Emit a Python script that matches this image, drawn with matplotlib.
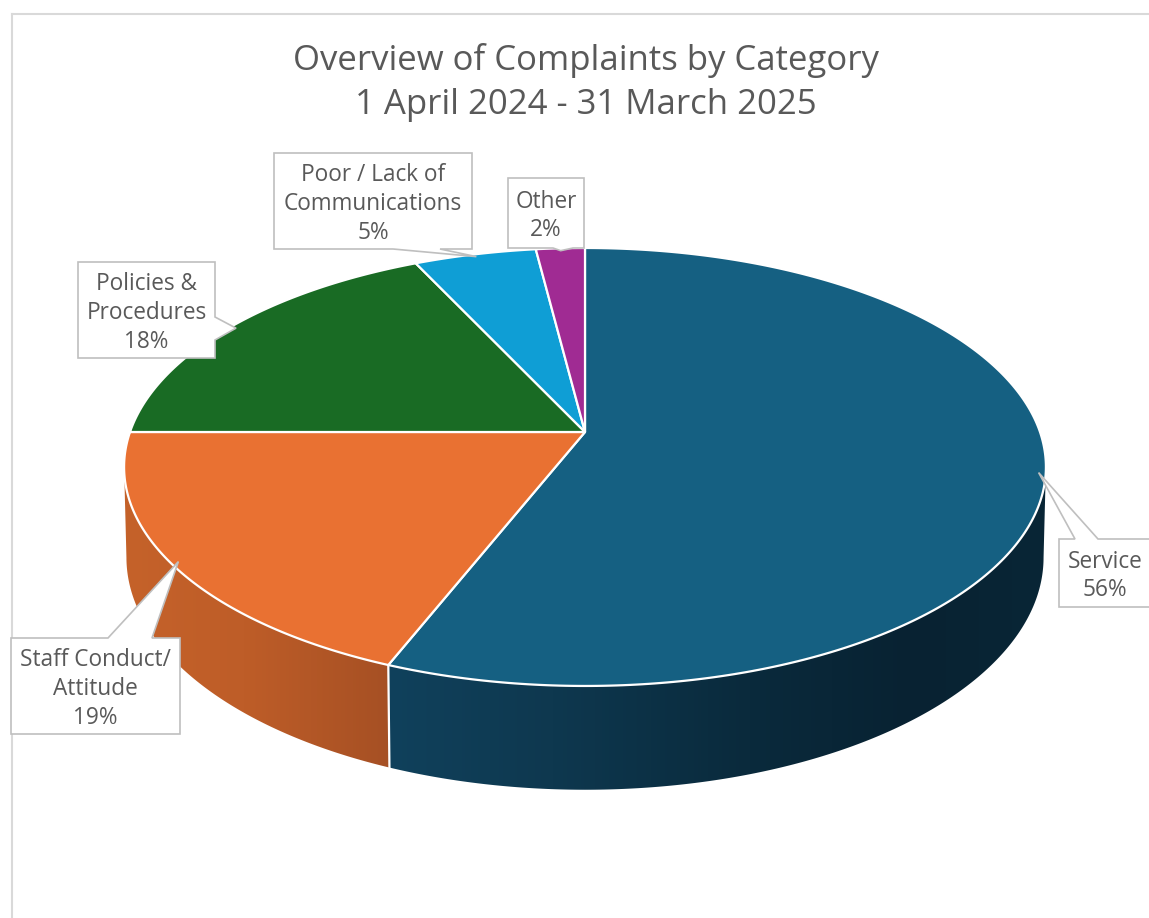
import numpy as np
import matplotlib
matplotlib.use("Agg")
import matplotlib.pyplot as plt
from matplotlib.patches import Polygon
from matplotlib.lines import Line2D
from matplotlib.colors import LinearSegmentedColormap

# ---- data ----
categories = ["Service", "Staff Conduct/\nAttitude", "Policies &\nProcedures",
              "Poor / Lack of\nCommunications", "Other"]
shares = [56, 19, 18, 5, 2]
title_lines = ["Overview of Complaints by Category", "1 April 2024 - 31 March 2025"]

# ---- style ----
top_colors = ["#156082", "#E97132", "#196B24", "#0F9ED5", "#A02B93"]
wall_colors = [
    [(0.0, "#10415C"), (0.25, "#0E384F"), (0.55, "#0A2A3C"), (0.8, "#082232"), (1.0, "#092636")],
    [(0.0, "#C5622A"), (0.45, "#BE5D28"), (1.0, "#A65024")],
    [(0.0, "#12501A"), (1.0, "#0E4014")],
    [(0.0, "#0B7BA8"), (1.0, "#09668C")],
    [(0.0, "#7E2173"), (1.0, "#6A1B61")],
]
text_color = "#595959"
border_color = "#BFBFBF"
font = ["Open Sans", "DejaVu Sans"]

W, H = 1149, 918
fig = plt.figure(figsize=(W / 100, H / 100), dpi=100)
ax = fig.add_axes([0, 0, 1, 1])
ax.set_xlim(0, W)
ax.set_ylim(H, 0)
ax.axis("off")

# ---- perspective disc projection ----
XC, YC = 585.0, 432.0      # pie centre on the top face
A, B = 455.0, 213.4        # horizontal / depth scale
K = 0.1597                 # perspective foreshortening
C = 89.0                   # thickness
M = 0.005                  # extra recession of the bottom face


def proj(theta, r=1.0, bottom=False):
    t = np.radians(theta)
    u = r * np.sin(t)
    v = r * np.cos(t)
    if bottom:
        w = 1 + K * v + M
        return XC + A * u / w, YC + (C - B * v) / w
    w = 1 + K * v
    return XC + A * u / w, YC - B * v / w


total = float(sum(shares))
edges = np.concatenate([[0.0], np.cumsum(shares)]) / total * 360.0
vis_lo = np.degrees(np.arccos(-K))
vis_hi = 360.0 - vis_lo

# ---- side walls (front only) ----
for i in range(len(shares)):
    a0, a1 = max(edges[i], vis_lo), min(edges[i + 1], vis_hi)
    if a1 <= a0:
        continue
    th = np.linspace(a0, a1, 200)
    xt, yt = proj(th)
    xb, yb = proj(th[::-1], bottom=True)
    xs = np.concatenate([xt, xb])
    ys = np.concatenate([yt, yb])
    poly = Polygon(np.column_stack([xs, ys]), closed=True, facecolor="none",
                   edgecolor="none")
    ax.add_patch(poly)
    cmap = LinearSegmentedColormap.from_list(f"wall{i}", wall_colors[i])
    grad = np.linspace(0, 1, 256).reshape(1, -1)
    im = ax.imshow(grad, cmap=cmap, aspect="auto", interpolation="bilinear",
                   extent=(xs.min(), xs.max(), ys.max(), ys.min()), zorder=1)
    im.set_clip_path(poly)

# seams between walls
for e in edges:
    if vis_lo < e < vis_hi:
        x0, y0 = proj(e)
        x1, y1 = proj(e, bottom=True)
        ax.add_line(Line2D([x0, x1], [y0, y1], color="white", lw=1.6, zorder=2))

# ---- top faces ----
for i in range(len(shares)):
    th = np.linspace(edges[i], edges[i + 1], 300)
    xr, yr = proj(th)
    pts = np.column_stack([np.concatenate([[XC], xr]), np.concatenate([[YC], yr])])
    ax.add_patch(Polygon(pts, closed=True, facecolor=top_colors[i], edgecolor="white",
                         lw=1.6, joinstyle="round", zorder=3))

# ---- data callouts ----
# box: (x0, y0, x1, y1); side of pointer; pointer base span along that side
callout_boxes = [
    ((1059, 539, 1165, 607), "top", (1075, 1098)),
    ((11, 638, 180, 734), "top", (108, 152)),
    ((78, 262, 215, 358), "right", (317, 340)),
    ((274, 153, 472, 249), "bottom", (393, 440)),
    ((508, 178, 584, 248), "bottom", (553, 573)),
]


def callout_path(box, side, span, tip):
    x0, y0, x1, y1 = box
    a, b = span
    if side == "top":
        return [(x0, y0), (a, y0), tip, (b, y0), (x1, y0), (x1, y1), (x0, y1)]
    if side == "right":
        return [(x0, y0), (x1, y0), (x1, a), tip, (x1, b), (x1, y1), (x0, y1)]
    return [(x0, y0), (x1, y0), (x1, y1), (b, y1), tip, (a, y1), (x0, y1)]


line_pitch = 29.0
for i, (box, side, span) in enumerate(callout_boxes):
    mid = 0.5 * (edges[i] + edges[i + 1])
    tip = proj(mid, r=0.985)
    ax.add_patch(Polygon(callout_path(box, side, span, tip), closed=True,
                         facecolor="white", edgecolor=border_color, lw=1.2,
                         joinstyle="miter", zorder=5))
    lines = categories[i].split("\n") + [f"{shares[i]}%"]
    x0, y0, x1, y1 = box
    cx = 0.5 * (x0 + min(x1, 1151))
    cy = 0.5 * (y0 + y1) + 3
    n = len(lines)
    for j, txt in enumerate(lines):
        ty = cy + (j - (n - 1) / 2) * line_pitch
        ax.text(cx, ty, txt, ha="center", va="center", fontsize=16.3,
                color=text_color, family=font, zorder=6)

# ---- title ----
for j, (txt, ty) in enumerate(zip(title_lines, [60, 105])):
    ax.text(586, ty, txt, ha="center", va="center", fontsize=25,
            color=text_color, family=font, zorder=6)

# ---- chart area border ----
ax.add_line(Line2D([12, W + 5], [14, 14], color="#D9D9D9", lw=1.5, zorder=0))
ax.add_line(Line2D([12, 12], [14, H + 5], color="#D9D9D9", lw=1.5, zorder=0))

ax.set_xlim(0, W)
ax.set_ylim(H, 0)
fig.savefig("out.png", dpi=100, facecolor="white")
